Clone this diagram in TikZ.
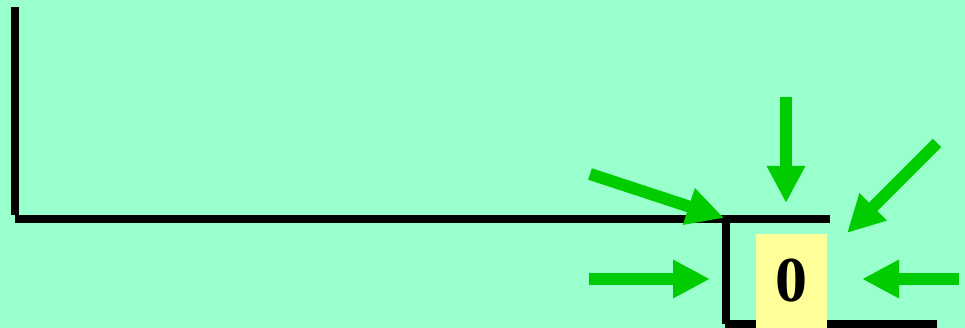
\documentclass[tikz,border=0pt]{standalone}
\usepackage{fontspec}
\setmainfont{Liberation Serif}
\usetikzlibrary{arrows.meta}
\definecolor{mint}{HTML}{99FFCC}
\definecolor{pushgreen}{HTML}{00CC00}
\definecolor{paleyellow}{HTML}{FFFF99}
\begin{document}
\begin{tikzpicture}[x=1pt, y=-1pt,
    wall/.style={line width=8pt},
    push/.style={pushgreen, line width=12pt, -{Triangle[length=37pt,width=36pt]}},
    zero/.style={fill=paleyellow, minimum width=71pt, minimum height=94pt, inner sep=0pt,
        font=\fontsize{64}{64}\selectfont\bfseries}]
    \fill[mint] (0,0) rectangle (965,328);
    \useasboundingbox (0,0) rectangle (965,328);
    % walls of the step
    \draw[wall] (14.5,7) -- (14.5,215);
    \draw[wall] (15,219) -- (830,219);
    \draw[wall] (725.5,219) -- (725.5,324);
    \draw[wall] (725,324) -- (937,324);
    \node[zero] (Z) at (791.5,281) {0};
    % forces pressing in on the corner
    \coordinate (L0) at (589,279);   \coordinate (L1) at (710,279);
    \coordinate (R0) at (959,279);   \coordinate (R1) at (862,279);
    \coordinate (T0) at (786,97);    \coordinate (T1) at (786,203);
    \coordinate (D0) at (590,174);   \coordinate (D1) at (724,218);
    \coordinate (E0) at (937,143);   \coordinate (E1) at (847,233);
    \draw[push] (L0) -- (L1);
    \draw[push] (R0) -- (R1);
    \draw[push] (T0) -- (T1);
    \draw[push] (D0) -- (D1);
    \draw[push] (E0) -- (E1);
\end{tikzpicture}
\end{document}
